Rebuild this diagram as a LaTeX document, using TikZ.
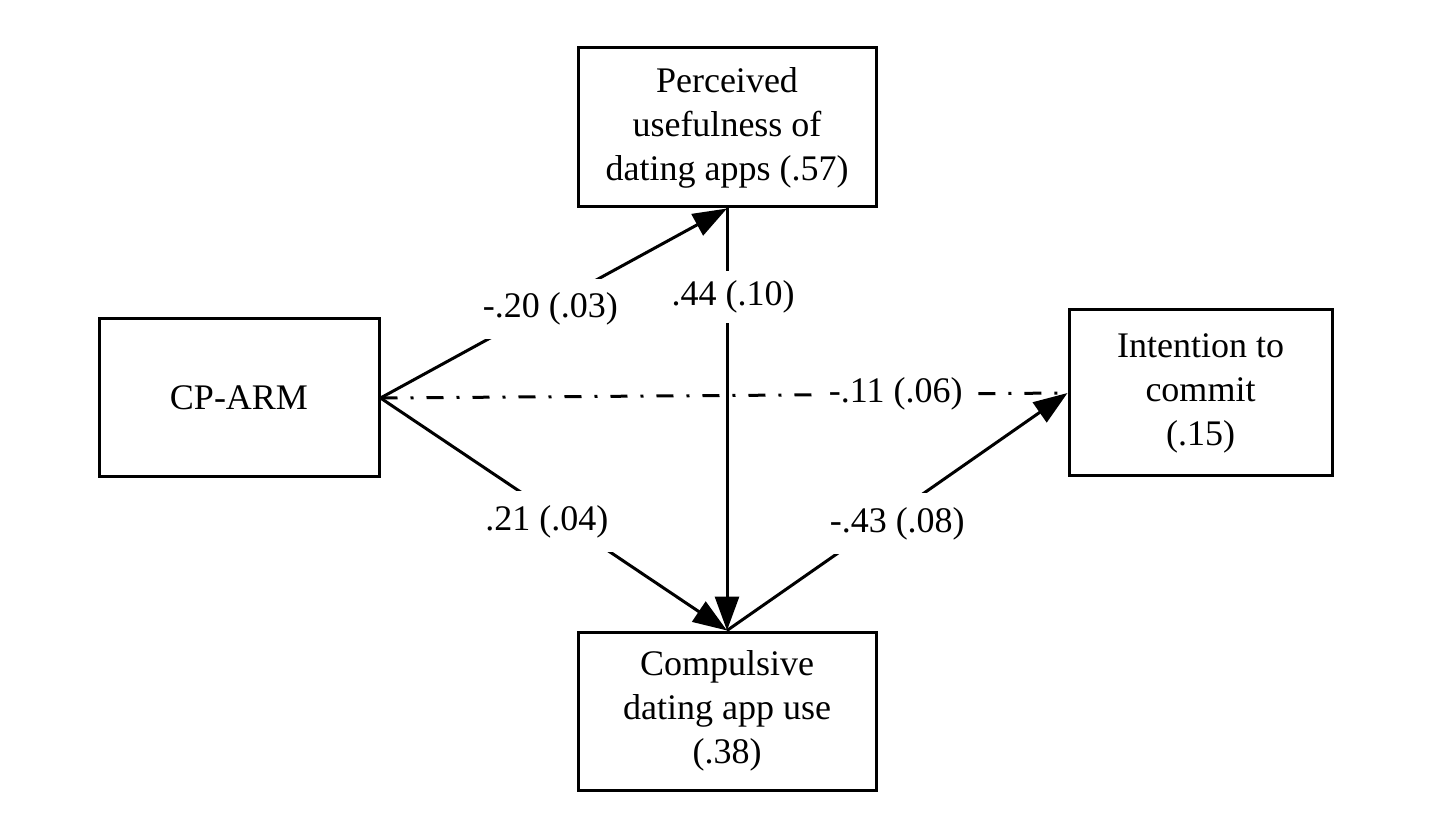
\documentclass[tikz,border=0pt]{standalone}
\usepackage{fontspec}
\setmainfont{Liberation Serif}
\usetikzlibrary{arrows.meta}

\tikzset{
	varbox/.style={draw, line width=1.5pt, align=center, inner sep=0pt,
		font=\fontsize{18}{22}\selectfont},
	path/.style={line width=1.5pt, -{Triangle[length=17pt,width=12pt]}},
	coef/.style={fill=white, inner xsep=4pt, inner ysep=7pt, font=\fontsize{18}{22}\selectfont},
}

\begin{document}
\begin{tikzpicture}[x=0.5pt, y=-0.5pt]
				\useasboundingbox (0,0) rectangle (1437,834);
				% variables
				\node[varbox, minimum width=140pt, minimum height=79pt] (cparm) at (239,398) {CP-ARM};
				\node[varbox, minimum width=149pt, minimum height=79.5pt] (useful) at (727,127.5) {Perceived\\usefulness of\\dating apps (.57)};
				\node[varbox, minimum width=131.5pt, minimum height=83pt] (intent) at (1200.5,393) {Intention to\\commit\\(.15)};
				\node[varbox, minimum width=149pt, minimum height=79pt] (compul) at (727,711) {Compulsive\\dating app use\\(.38)};
				% direct effect
				\draw[line width=1.5pt, dash pattern=on 8.5pt off 6.5pt on 1.5pt off 6.5pt]
					(cparm.east) -- node[coef, pos=0.75, inner ysep=4pt] {-.11 (.06)} (intent.west);
				% paths
				\draw[path] (cparm.east) -- node[coef, pos=0.49, yshift=-2pt] {-.20 (.03)} (useful.south);
				\draw[path] (cparm.east) -- node[coef, pos=0.48, yshift=-6pt] {.21 (.04)} (compul.north);
				\draw[path] (useful.south) -- node[coef, pos=0.21, xshift=3pt, inner ysep=5pt] {.44 (.10)} (compul.north);
				\draw[path] (compul.north) -- node[coef, pos=0.5, yshift=-6pt] {-.43 (.08)} (intent.west);
		\end{tikzpicture}
\end{document}
